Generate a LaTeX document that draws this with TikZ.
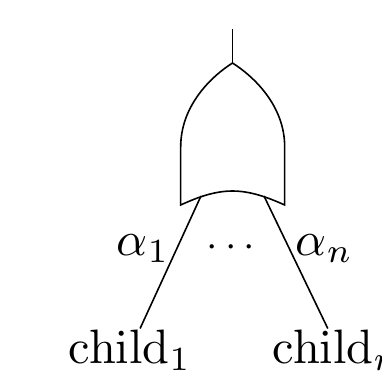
\documentclass[tikz,border=0pt]{standalone}
\usepackage{amsmath}
\usepackage{tikz}

\begin{document}
\begin{tikzpicture}[
    x=0.207pt, y=-0.207pt,
    wire/.style={line width=0.33pt, line join=miter},
    lbl/.style={inner sep=0pt, anchor=base west}
]
\useasboundingbox (0,0) rectangle (382,385);
\coordinate (top) at (232.5,29);
\coordinate (apex) at (232.5,63);
\coordinate (inl) at (201,196);
\coordinate (inr) at (264,196);

\node[lbl] (child1) at (68,363) {$\mathrm{child}_1$};
\node[lbl] (childn) at (272,363) {$\mathrm{child}_n$};
\node[lbl] (a1) at (116,255) {$\alpha_1$};
\node[lbl] (an) at (295,255) {$\alpha_n$};
\node[lbl, font=\footnotesize] (dots) at (206,256) {$\cdots$};

\draw[wire] (top) -- (apex);
\draw[wire] (apex) .. controls (212,76) and (180.7,105) .. (180.7,147) -- (180.7,205)
    .. controls (198,197) and (215,191) .. (232.5,191)
    .. controls (250,191) and (267,197) .. (284.7,205) -- (284.7,147)
    .. controls (284.7,105) and (253,76) .. (apex) -- cycle;
\draw[wire] (inl) -- (child1.65);
\draw[wire] (inr) -- (childn.112);
\end{tikzpicture}
\end{document}
